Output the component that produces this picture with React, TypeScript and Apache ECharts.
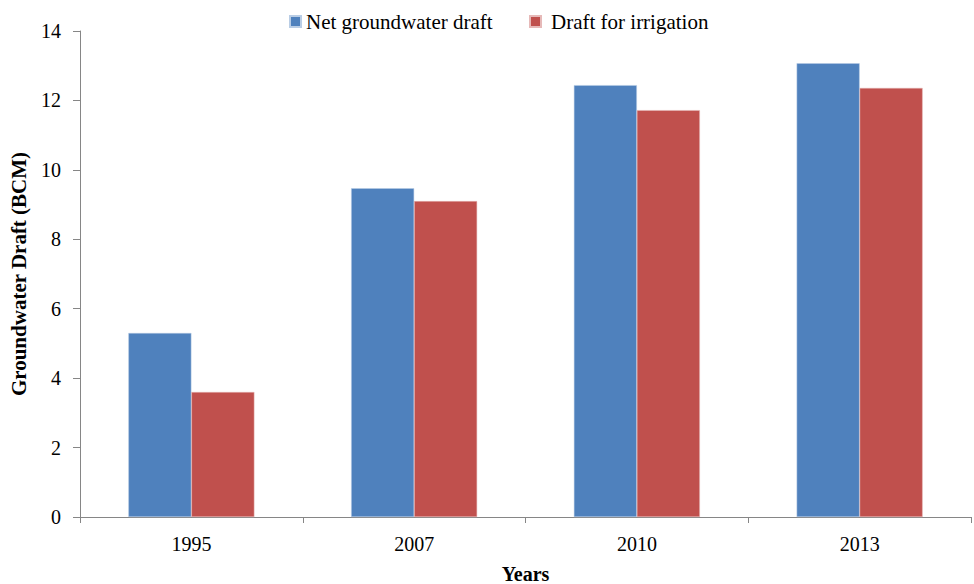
import React, { useEffect, useRef } from "react";
import * as echarts from "echarts";

const years = ["1995", "2007", "2010", "2013"];
const netDraft = [5.3, 9.47, 12.44, 13.07];
const irrigationDraft = [3.6, 9.1, 11.72, 12.36];
const seriesNames = ["Net groundwater draft", "Draft for irrigation"];

export default function App() {
  const ref = useRef<HTMLDivElement>(null);
  useEffect(() => {
    if (!ref.current) return;
    const chart = echarts.init(ref.current, undefined, { renderer: "svg" });
    const font = "'Liberation Serif', 'Times New Roman', serif";
    const legendBase = {
      top: 6,
      itemWidth: 11,
      itemHeight: 11,
      icon: "rect",
      textStyle: { fontFamily: font, fontSize: 21, color: "#000" },
    };
    chart.setOption({
      animation: false,
      textStyle: { fontFamily: font },
      legend: [
        { ...legendBase, left: 284, data: [seriesNames[0]] },
        {
          ...legendBase,
          left: 524,
          data: [seriesNames[1]],
          textStyle: { ...legendBase.textStyle, padding: [0, 0, 0, 5] },
        },
      ],
      grid: {
        left: 80,
        right: 3,
        top: 31,
        bottom: 67,
        containLabel: false,
        outerBoundsMode: "none",
      },
      xAxis: {
        type: "category",
        data: years,
        name: "Years",
        nameLocation: "middle",
        nameGap: 47,
        nameTextStyle: { fontFamily: font, fontSize: 20, fontWeight: "bold", color: "#000" },
        axisLine: { lineStyle: { color: "#868686", width: 1 } },
        axisTick: { show: true, alignWithLabel: false, length: 6, lineStyle: { color: "#868686" } },
        axisLabel: { fontFamily: font, fontSize: 20, color: "#000", margin: 17 },
      },
      yAxis: {
        type: "value",
        min: 0,
        max: 14,
        interval: 2,
        name: "Groundwater Draft (BCM)",
        nameLocation: "middle",
        nameGap: 51,
        nameTextStyle: { fontFamily: font, fontSize: 21, fontWeight: "bold", color: "#000" },
        axisLine: { show: true, lineStyle: { color: "#868686", width: 1 } },
        axisTick: { show: true, length: 7, lineStyle: { color: "#868686" } },
        axisLabel: { fontFamily: font, fontSize: 20, color: "#000", margin: 19 },
        splitLine: { show: false },
      },
      series: [
        {
          name: seriesNames[0],
          type: "bar",
          data: netDraft,
          barWidth: 63,
          barGap: "0%",
          itemStyle: { color: "#4F81BD", borderColor: "#B9CDE5", borderWidth: 0.5 },
        },
        {
          name: seriesNames[1],
          type: "bar",
          data: irrigationDraft,
          barWidth: 63,
          barGap: "0%",
          itemStyle: { color: "#C0504D", borderColor: "#E6B9B8", borderWidth: 0.5 },
        },
      ],
    });
    return () => chart.dispose();
  }, []);
  return <div ref={ref} style={{ width: 974, height: 584, position: "absolute", left: 0, top: 0 }} />;
}
